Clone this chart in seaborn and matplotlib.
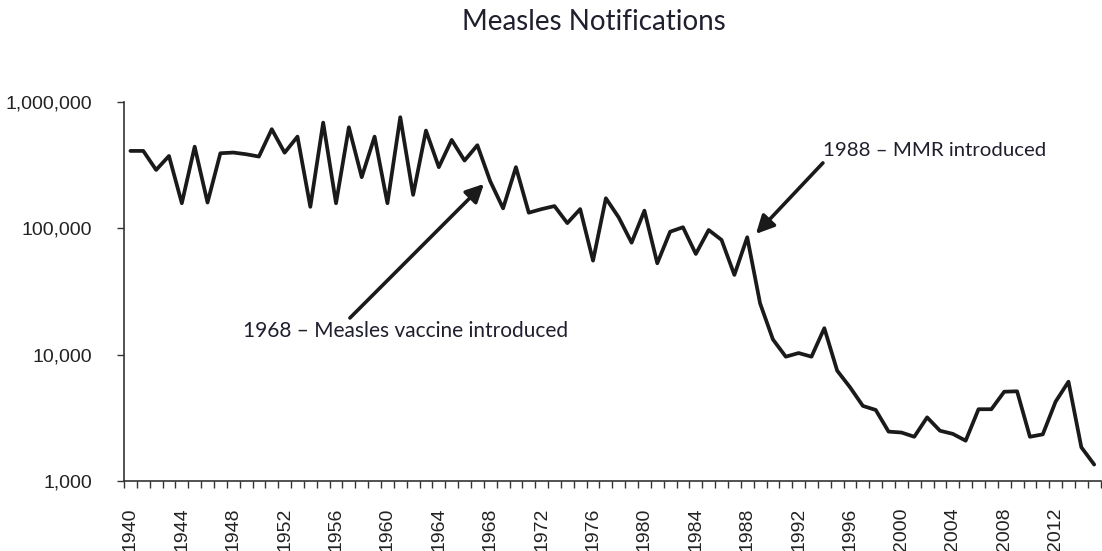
import matplotlib
matplotlib.use("Agg")
import matplotlib.pyplot as plt
import matplotlib.ticker as mticker
import seaborn as sns
import pandas as pd
import numpy as np

years = list(range(1940, 2016))
notifications = [
    410000, 410000, 290000, 374000, 158000, 443000, 160000, 393000, 398000, 386000,
    370000, 609000, 397000, 532000, 148000, 687000, 158000, 631000, 254000, 532000,
    158000, 758000, 184000, 594000, 305000, 501000, 344000, 455000, 236000, 144000,
    305000, 133000, 142000, 150000, 110000, 142000, 55500, 173000, 122000, 77000,
    138000, 52900, 94000, 102000, 62700, 97000, 81000, 42800, 85000, 25500,
    13200, 9640, 10300, 9640, 16200, 7470, 5520, 3930, 3650, 2460,
    2420, 2240, 3190, 2500, 2360, 2085, 3700, 3700, 5090, 5130,
    2240, 2340, 4250, 6110, 1850, 1350,
]
label_years = list(range(1940, 2016, 4))
title = "Measles Notifications"
note_vaccine = "1968 \u2013 Measles vaccine introduced"
note_mmr = "1988 \u2013 MMR introduced"

df = pd.DataFrame({"year": years, "cases": notifications})

sns.set_theme(style="white")
plt.rcParams["font.family"] = ["Liberation Sans", "DejaVu Sans"]

fig = plt.figure(figsize=(11.02, 5.51), dpi=100)
ax = fig.add_axes([124 / 1102, 1 - 481 / 551, (1100.6 - 124) / 1102, (481 - 102) / 551])

sns.lineplot(data=df, x="year", y="cases", ax=ax, color="#1a1a1a", linewidth=2.7)
ax.set_yscale("log")
ax.set_ylim(1000, 1000000)
ax.set_xlim(years[0] - 0.5, years[-1] + 0.5)

ax.yaxis.set_major_locator(mticker.FixedLocator([1e3, 1e4, 1e5, 1e6]))
ax.yaxis.set_minor_locator(mticker.NullLocator())
ax.yaxis.set_major_formatter(mticker.FuncFormatter(lambda v, p: f"{int(round(v)):,}"))

ax.xaxis.set_major_locator(mticker.FixedLocator(label_years))
ax.xaxis.set_major_formatter(mticker.FuncFormatter(lambda v, p: f"{int(round(v))}"))
ax.xaxis.set_minor_locator(mticker.FixedLocator(np.arange(years[0] - 0.5, years[-1] + 1.0, 1.0)))

ax.set_xlabel("")
ax.set_ylabel("")
for s in ["top", "right"]:
    ax.spines[s].set_visible(False)
for s in ["left", "bottom"]:
    ax.spines[s].set_color("#333333")
    ax.spines[s].set_linewidth(1.2)

ax.tick_params(axis="x", which="major", length=0, pad=19, labelsize=14,
               labelrotation=90, labelcolor="#222222")
ax.tick_params(axis="x", which="minor", length=5, width=1.0, color="#333333",
               direction="out", bottom=True)
ax.tick_params(axis="y", which="major", length=5, width=1.0, color="#333333",
               direction="out", left=True, labelsize=14, labelcolor="#222222", pad=18)
ax.grid(False)

fig.text(594 / 1102, 1 - 22 / 551, title, ha="center", va="center",
         fontsize=20, family=["Lato", "DejaVu Sans"], color="#1f1f2e")

def px_to_data(px, py):
    yr = years[0] + (px - 130.5) / 12.85
    val = 10 ** (3 + (481 - py) / 126.3)
    return yr, val

head1 = px_to_data(484, 184)
tail1 = px_to_data(350, 318)
head2 = px_to_data(756, 234)
tail2 = px_to_data(823, 163)

arrow_style = dict(arrowstyle="-|>,head_length=0.9,head_width=0.45", color="#1a1a1a",
                   lw=2.6, shrinkA=0, shrinkB=0)
ax.annotate("", xy=head1, xytext=tail1, arrowprops=arrow_style)
ax.annotate("", xy=head2, xytext=tail2, arrowprops=arrow_style)

t1 = px_to_data(406, 331)
t2 = px_to_data(935, 151)
ax.text(t1[0], t1[1], note_vaccine, ha="center", va="center", fontsize=15,
        family=["Lato", "DejaVu Sans"], color="#1f1f2e")
ax.text(t2[0], t2[1], note_mmr, ha="center", va="center", fontsize=14.7,
        family=["Lato", "DejaVu Sans"], color="#1f1f2e")

fig.savefig("out.png", dpi=100)
